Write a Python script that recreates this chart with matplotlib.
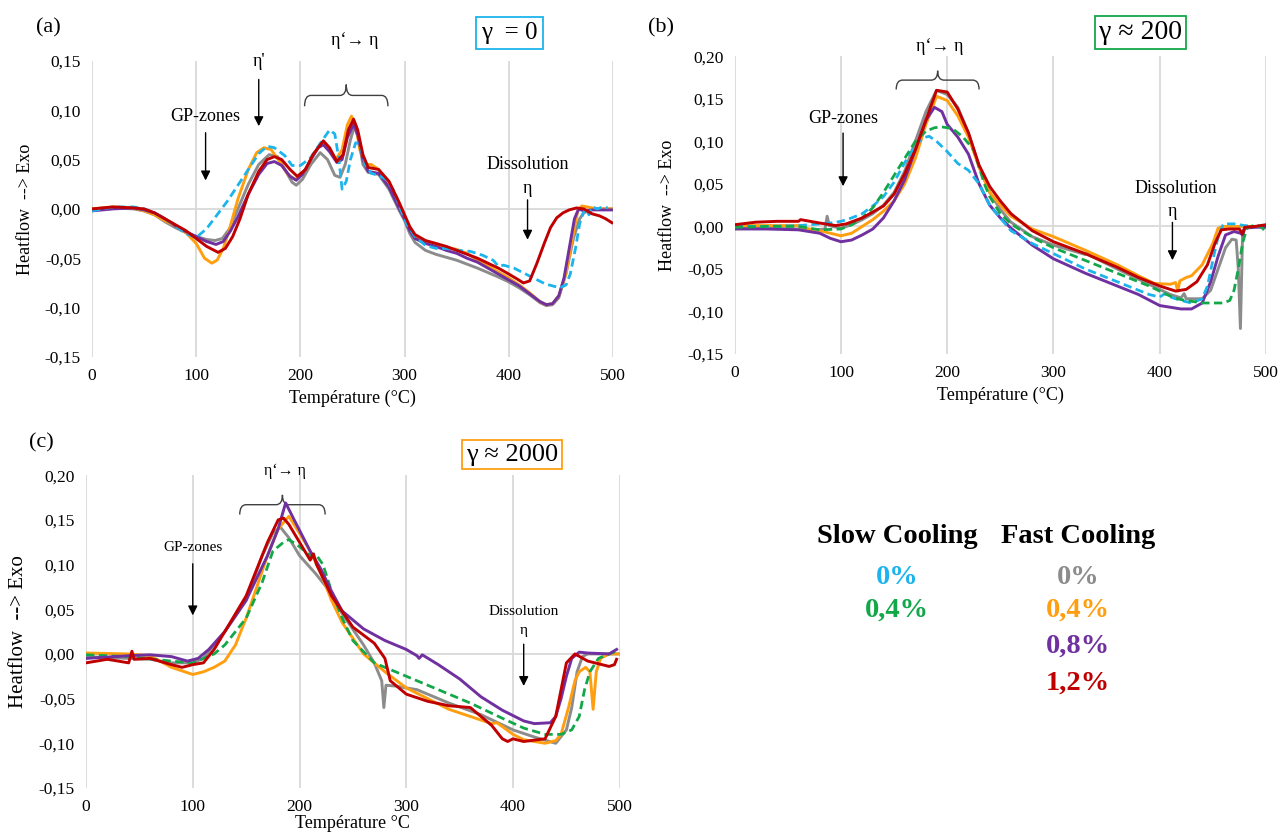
import numpy as np
import matplotlib
matplotlib.use("Agg")
import matplotlib.pyplot as plt
from matplotlib.path import Path
from matplotlib.patches import PathPatch
from matplotlib.ticker import FuncFormatter

plt.rcParams['font.family'] = ['Liberation Serif', 'DejaVu Serif']

# couleurs des series (Excel)
c_blue = '#1CB4EC'
c_green = '#12A84A'
c_gray = '#8C8C8C'
c_orange = '#FF9F10'
c_purple = '#7030A0'
c_red = '#C00000'

# ---------- (a) gamma = 0 ----------
a_slow0_x = [0,10,20,30,40,50,60,70,80,90,100,110,120,130,140,150,160,168,175,185,192,200,210,220,228,233,237,240,244,248,253,257,262,268,275,282,290,296,302,310,320,330,340,350,363,375,385,390,395,405,420,435,449,455,459,464,468,471,474,477,480,485,490,495]
a_slow0_y = [-0.002,0.0,0.002,0.002,0.002,0.0,-0.004,-0.01,-0.017,-0.025,-0.029,-0.02,-0.006,0.008,0.024,0.04,0.056,0.0635,0.062,0.054,0.044,0.044,0.052,0.068,0.08,0.076,0.05,0.02,0.028,0.05,0.067,0.066,0.045,0.036,0.034,0.03,0.018,0.0,-0.015,-0.028,-0.037,-0.04,-0.04,-0.042,-0.043,-0.047,-0.052,-0.058,-0.057,-0.06,-0.068,-0.076,-0.08,-0.077,-0.066,-0.04,-0.015,-0.005,0.0,-0.006,0.002,0.0,0.002,0.001]

a_fast0_x = [0,20,40,50,60,70,80,90,100,110,118,125,132,140,150,160,170,178,185,192,196,202,210,219,226,233,238,243,248,252,256,260,265,275,285,295,300,305,310,320,330,350,370,390,400,410,420,430,436,442,448,455,462,468,472,476,480,490,500]
a_fast0_y = [0.0,0.001,0.0,-0.002,-0.006,-0.013,-0.019,-0.024,-0.028,-0.031,-0.032,-0.03,-0.02,0.0,0.025,0.045,0.055,0.053,0.04,0.027,0.024,0.03,0.045,0.057,0.05,0.034,0.032,0.045,0.07,0.084,0.07,0.045,0.037,0.035,0.02,-0.002,-0.012,-0.025,-0.034,-0.042,-0.046,-0.052,-0.06,-0.069,-0.074,-0.08,-0.087,-0.095,-0.098,-0.097,-0.09,-0.065,-0.03,-0.01,-0.004,-0.002,0.0,0.0,0.0]

a_fast04_x = [0,20,40,50,60,70,80,90,100,108,115,120,126,132,140,150,158,165,172,180,188,195,202,210,218,222,228,234,240,245,249,253,257,262,268,275,285,295,300,305,310,320,330,340,350,360,370,380,390,400,410,420,430,436,442,448,455,462,466,470,475,480,490,500]
a_fast04_y = [0.0,0.002,0.001,-0.002,-0.006,-0.012,-0.017,-0.024,-0.035,-0.05,-0.055,-0.052,-0.04,-0.02,0.01,0.04,0.057,0.062,0.06,0.048,0.035,0.03,0.035,0.05,0.064,0.067,0.06,0.05,0.06,0.085,0.094,0.085,0.06,0.045,0.045,0.04,0.026,0.005,-0.008,-0.02,-0.028,-0.034,-0.037,-0.039,-0.041,-0.045,-0.052,-0.058,-0.064,-0.07,-0.077,-0.085,-0.094,-0.097,-0.096,-0.088,-0.065,-0.025,-0.003,0.003,0.002,0.001,0.0,0.0]

a_fast08_x = [0,20,40,50,60,70,80,90,100,110,119,126,133,140,150,160,168,175,182,190,196,202,210,217,222,228,235,240,245,251,255,260,265,275,285,295,300,305,310,320,330,340,350,360,370,380,390,400,410,420,430,436,442,448,453,458,463,467,472,480,490,500]
a_fast08_y = [-0.002,0.0,0.001,-0.001,-0.004,-0.01,-0.017,-0.023,-0.028,-0.033,-0.036,-0.033,-0.022,-0.008,0.015,0.035,0.046,0.048,0.044,0.033,0.029,0.035,0.05,0.062,0.065,0.058,0.047,0.05,0.072,0.086,0.075,0.05,0.038,0.036,0.022,0.0,-0.01,-0.022,-0.03,-0.035,-0.038,-0.042,-0.045,-0.05,-0.054,-0.06,-0.066,-0.072,-0.078,-0.086,-0.094,-0.097,-0.096,-0.088,-0.07,-0.04,-0.01,0.0,-0.002,-0.001,-0.001,-0.001]

a_fast12_x = [0,20,40,50,60,70,80,90,100,110,121,128,135,142,150,160,168,175,182,190,197,205,212,222,228,235,241,246,251,255,260,265,275,285,295,300,305,310,320,330,340,350,360,370,380,390,400,408,414,420,427,434,440,446,452,458,465,472,480,487,493,499]
a_fast12_y = [0.0,0.002,0.001,0.0,-0.004,-0.01,-0.016,-0.022,-0.03,-0.038,-0.044,-0.04,-0.028,-0.01,0.015,0.038,0.05,0.053,0.05,0.04,0.033,0.04,0.055,0.069,0.062,0.048,0.055,0.08,0.091,0.08,0.055,0.042,0.04,0.028,0.006,-0.006,-0.018,-0.026,-0.032,-0.035,-0.038,-0.042,-0.046,-0.05,-0.055,-0.06,-0.066,-0.071,-0.075,-0.073,-0.055,-0.035,-0.019,-0.009,-0.004,-0.001,0.001,0.0,-0.005,-0.007,-0.01,-0.014]

# ---------- (b) gamma ~ 200 ----------
b_slow0_x = [0,30,60,90,100,110,120,130,140,150,160,170,177,183,190,200,210,220,230,240,250,260,280,300,330,360,390,400,405,410,420,430,440,445,450,455,460,470,480,490,498]
b_slow0_y = [0.0,0.0,0.001,0.004,0.006,0.01,0.015,0.024,0.035,0.052,0.075,0.095,0.104,0.106,0.1,0.088,0.074,0.066,0.05,0.025,0.01,-0.005,-0.02,-0.032,-0.05,-0.065,-0.08,-0.083,-0.079,-0.083,-0.087,-0.09,-0.085,-0.07,-0.04,-0.012,0.003,0.003,0.001,0.0,0.0]

b_slow04_x = [0,30,60,80,100,110,120,130,140,150,160,170,180,188,195,205,215,225,230,235,240,250,260,270,285,300,330,360,390,410,420,440,460,466,470,474,478,482,490,495,499]
b_slow04_y = [-0.001,0.0,0.0,-0.004,-0.003,0.002,0.01,0.022,0.04,0.06,0.08,0.1,0.112,0.116,0.117,0.115,0.105,0.09,0.07,0.05,0.035,0.015,0.003,-0.005,-0.016,-0.025,-0.04,-0.055,-0.07,-0.082,-0.086,-0.09,-0.09,-0.087,-0.075,-0.05,-0.02,-0.002,0.002,0.0,-0.005]

b_fast0_x = [0,30,60,70,85,87,89,92,100,110,120,130,140,150,160,170,180,190,200,210,220,230,240,250,260,280,300,330,332,334,360,390,410,420,423,425,428,440,448,455,462,468,472,474,476,478,480,490,500]
b_fast0_y = [-0.001,-0.002,-0.003,-0.005,-0.003,0.012,0.001,0.0,-0.002,0.002,0.008,0.015,0.025,0.04,0.065,0.1,0.135,0.16,0.155,0.14,0.11,0.07,0.04,0.02,0.005,-0.012,-0.022,-0.033,-0.03,-0.034,-0.05,-0.068,-0.08,-0.084,-0.079,-0.085,-0.085,-0.085,-0.075,-0.05,-0.025,-0.015,-0.016,-0.05,-0.12,-0.01,-0.002,0.0,0.0]

b_fast04_x = [0,30,60,70,80,90,100,110,120,130,140,150,160,170,180,190,200,210,220,230,240,250,260,280,300,330,360,380,395,410,415,417,419,425,430,440,450,455,460,480,500]
b_fast04_y = [0.001,0.001,0.001,-0.003,-0.005,-0.008,-0.011,-0.008,0.0,0.008,0.018,0.03,0.05,0.08,0.12,0.153,0.148,0.13,0.105,0.07,0.04,0.025,0.012,-0.003,-0.012,-0.028,-0.045,-0.058,-0.067,-0.068,-0.066,-0.076,-0.064,-0.06,-0.058,-0.045,-0.02,-0.002,0.0,0.0,0.0]

b_fast08_x = [0,30,60,80,90,100,110,120,130,140,150,160,170,180,188,195,200,210,220,230,240,250,260,280,300,330,360,380,400,420,430,440,448,455,462,470,476,478,480,490,500]
b_fast08_y = [-0.003,-0.003,-0.004,-0.008,-0.014,-0.018,-0.016,-0.01,-0.003,0.01,0.03,0.055,0.09,0.125,0.14,0.135,0.12,0.105,0.085,0.05,0.025,0.01,-0.002,-0.022,-0.038,-0.055,-0.07,-0.08,-0.093,-0.097,-0.097,-0.09,-0.065,-0.035,-0.01,-0.006,-0.008,-0.01,-0.002,-0.001,-0.001]

b_fast12_x = [0,20,40,60,62,80,95,105,120,140,150,160,170,180,190,200,210,220,230,240,250,260,280,300,330,360,380,400,415,425,435,445,452,458,465,475,478,480,490,500]
b_fast12_y = [0.002,0.005,0.006,0.006,0.008,0.004,0.001,0.003,0.01,0.024,0.038,0.062,0.09,0.125,0.16,0.158,0.138,0.11,0.072,0.047,0.03,0.015,-0.005,-0.018,-0.032,-0.048,-0.06,-0.07,-0.076,-0.074,-0.065,-0.045,-0.02,-0.004,-0.003,-0.003,-0.009,-0.001,0.0,0.002]

# ---------- (c) gamma ~ 2000 ----------
c_slow04_x = [0,40,80,100,110,120,130,150,165,175,185,190,200,210,215,222,230,240,250,270,300,330,360,390,410,430,445,455,462,467,472,480,490,497]
c_slow04_y = [-0.001,-0.003,-0.008,-0.01,-0.005,0.0,0.01,0.04,0.08,0.115,0.125,0.128,0.12,0.11,0.112,0.1,0.07,0.04,0.015,-0.01,-0.025,-0.04,-0.055,-0.072,-0.083,-0.09,-0.09,-0.085,-0.07,-0.04,-0.02,-0.005,0.0,0.003]

c_fast0_x = [0,40,60,80,100,110,120,130,150,165,175,182,190,200,215,225,240,260,270,277,279,281,290,310,340,370,400,420,440,450,455,460,465,470,500]
c_fast0_y = [-0.003,-0.005,-0.006,-0.01,-0.01,-0.005,0.01,0.025,0.06,0.11,0.135,0.142,0.13,0.11,0.09,0.075,0.045,0.01,-0.01,-0.03,-0.06,-0.035,-0.036,-0.04,-0.055,-0.068,-0.085,-0.093,-0.1,-0.085,-0.06,-0.02,-0.003,0.0,0.0]

c_fast04_x = [0,40,60,80,100,110,120,130,140,150,160,170,180,190,200,210,220,230,240,260,280,300,320,340,360,380,385,400,410,420,430,440,445,452,458,462,468,472,475,478,482,490,500]
c_fast04_y = [0.001,0.0,-0.002,-0.015,-0.023,-0.02,-0.015,-0.008,0.01,0.04,0.075,0.11,0.14,0.154,0.135,0.115,0.09,0.06,0.035,0.0,-0.02,-0.038,-0.05,-0.062,-0.07,-0.078,-0.077,-0.09,-0.096,-0.098,-0.1,-0.097,-0.09,-0.06,-0.03,-0.02,-0.015,-0.02,-0.062,-0.02,-0.005,0.0,0.0]

c_fast08_x = [0,40,60,80,95,105,115,130,150,170,180,187,195,210,220,230,240,260,280,300,310,312,315,330,350,370,390,410,420,435,440,445,450,455,462,470,490,497]
c_fast08_y = [-0.005,-0.002,-0.001,-0.003,-0.008,-0.005,0.005,0.025,0.06,0.11,0.14,0.169,0.15,0.115,0.095,0.07,0.048,0.028,0.015,0.005,-0.002,-0.005,-0.001,-0.012,-0.028,-0.048,-0.063,-0.075,-0.078,-0.077,-0.07,-0.05,-0.025,-0.005,0.002,0.001,0.0,0.005]

c_fast12_x = [0,20,40,43,45,60,80,90,100,110,120,130,150,170,180,185,190,200,210,213,216,230,250,270,280,285,300,320,340,360,370,380,390,395,400,410,430,440,445,450,458,470,490,495,497]
c_fast12_y = [-0.01,-0.006,-0.01,0.003,-0.006,-0.005,-0.012,-0.015,-0.012,-0.01,0.005,0.025,0.065,0.125,0.15,0.152,0.145,0.125,0.105,0.112,0.1,0.065,0.03,0.012,-0.005,-0.03,-0.045,-0.053,-0.058,-0.06,-0.07,-0.08,-0.095,-0.098,-0.095,-0.098,-0.095,-0.07,-0.04,-0.01,0.0,-0.008,-0.014,-0.012,-0.006]

x_ticks = [0, 100, 200, 300, 400, 500]


def brace(ax, x0, x1, y, h, q):
    # accolade horizontale, pointe vers le haut
    xm = (x0 + x1) / 2
    verts = [(x0, y - h), (x0, y), (x0 + q, y), (xm - q, y), (xm, y), (xm, y + h),
             (xm, y + h), (xm, y), (xm + q, y), (x1 - q, y), (x1, y), (x1, y - h)]
    codes = [Path.MOVETO, Path.CURVE3, Path.CURVE3, Path.LINETO, Path.CURVE3, Path.CURVE3,
             Path.MOVETO, Path.CURVE3, Path.CURVE3, Path.LINETO, Path.CURVE3, Path.CURVE3]
    ax.add_patch(PathPatch(Path(verts, codes), fc='none', ec='#404040', lw=1.0, clip_on=False))


def arrow(ax, x, y0, y1):
    ax.annotate('', xy=(x, y1), xytext=(x, y0),
                arrowprops=dict(arrowstyle='-|>', color='black', lw=1.0, mutation_scale=14),
                annotation_clip=False)


def setup(ax, ylim, yticks, xlabel, ylabel_size):
    ax.set_xlim(0, 500)
    ax.set_ylim(*ylim)
    ax.set_xticks(x_ticks)
    ax.set_yticks(yticks)
    ax.yaxis.set_major_formatter(FuncFormatter(lambda v, p: ('%.2f' % v).replace('.', ',')))
    for s in ax.spines.values():
        s.set_visible(False)
    ax.tick_params(length=0, labelsize=12.5, pad=8)
    ax.grid(axis='x', color='#D9D9D9', lw=1.3)
    ax.axhline(0, color='#D9D9D9', lw=1.3, zorder=1)
    ax.set_axisbelow(True)
    ax.set_xlabel(xlabel, fontsize=13, labelpad=4)
    ax.set_ylabel('Heatflow  --> Exo', fontsize=ylabel_size, labelpad=8)


def plot_fast(ax, xs, ys, col):
    ax.plot(xs, ys, color=col, lw=2.1, zorder=3, solid_joinstyle='round')


def plot_slow(ax, xs, ys, col):
    ax.plot(xs, ys, color=col, lw=2.0, ls=(0, (3, 1.6)), zorder=3)


fig = plt.figure(figsize=(12.8, 8.34), dpi=100)

# ----- (a)
ax1 = fig.add_axes([0.0719, 0.572, 0.407, 0.355])
setup(ax1, (-0.15, 0.15), [-0.15, -0.10, -0.05, 0.0, 0.05, 0.10, 0.15], 'Température (°C)', 13)
plot_fast(ax1, a_fast0_x, a_fast0_y, c_gray)
plot_fast(ax1, a_fast04_x, a_fast04_y, c_orange)
plot_fast(ax1, a_fast08_x, a_fast08_y, c_purple)
plot_slow(ax1, a_slow0_x, a_slow0_y, c_blue)
plot_fast(ax1, a_fast12_x, a_fast12_y, c_red)
fig.text(0.0375, 0.967, '(a)', fontsize=16, va='center', ha='center')
fig.text(0.398, 0.961, 'γ  = 0', fontsize=18, va='center', ha='center',
         bbox=dict(boxstyle='square,pad=0.2', fc='white', ec=c_blue, lw=1.3))
ax1.text(160, 0.149, "η'", fontsize=13, ha='center', va='center')
arrow(ax1, 160, 0.134, 0.081)
ax1.text(252, 0.171, 'η‘→ η', fontsize=13, ha='center', va='center')
brace(ax1, 204, 284, 0.115, 0.011, 6)
ax1.text(109, 0.094, 'GP-zones', fontsize=13, ha='center', va='center')
arrow(ax1, 109, 0.080, 0.026)
ax1.text(418, 0.045, 'Dissolution', fontsize=13, ha='center', va='center')
ax1.text(418, 0.021, 'η', fontsize=13, ha='center', va='center')
arrow(ax1, 418, 0.012, -0.034)

# ----- (b)
ax2 = fig.add_axes([0.574, 0.5755, 0.415, 0.357])
setup(ax2, (-0.15, 0.20), [-0.15, -0.10, -0.05, 0.0, 0.05, 0.10, 0.15, 0.20], 'Température (°C)', 13)
plot_fast(ax2, b_fast0_x, b_fast0_y, c_gray)
plot_fast(ax2, b_fast04_x, b_fast04_y, c_orange)
plot_fast(ax2, b_fast08_x, b_fast08_y, c_purple)
plot_slow(ax2, b_slow0_x, b_slow0_y, c_blue)
plot_slow(ax2, b_slow04_x, b_slow04_y, c_green)
plot_fast(ax2, b_fast12_x, b_fast12_y, c_red)
fig.text(0.5165, 0.967, '(b)', fontsize=16, va='center', ha='center')
fig.text(0.891, 0.961, 'γ ≈ 200', fontsize=20, va='center', ha='center',
         bbox=dict(boxstyle='square,pad=0.15', fc='white', ec=c_green, lw=1.3))
ax2.text(193, 0.212, 'η‘→ η', fontsize=13, ha='center', va='center')
brace(ax2, 152, 230, 0.172, 0.011, 6)
ax2.text(102, 0.127, 'GP-zones', fontsize=13, ha='center', va='center')
arrow(ax2, 102, 0.113, 0.044)
ax2.text(415, 0.045, 'Dissolution', fontsize=13, ha='center', va='center')
ax2.text(412, 0.018, 'η', fontsize=13, ha='center', va='center')
arrow(ax2, 412, 0.008, -0.043)

# ----- (c)
ax3 = fig.add_axes([0.0672, 0.0552, 0.417, 0.375])
setup(ax3, (-0.15, 0.20), [-0.15, -0.10, -0.05, 0.0, 0.05, 0.10, 0.15, 0.20], 'Température °C', 15)
ax3.xaxis.labelpad = 0
plot_fast(ax3, c_fast0_x, c_fast0_y, c_gray)
plot_fast(ax3, c_fast04_x, c_fast04_y, c_orange)
plot_slow(ax3, c_slow04_x, c_slow04_y, c_green)
plot_fast(ax3, c_fast08_x, c_fast08_y, c_purple)
plot_fast(ax3, c_fast12_x, c_fast12_y, c_red)
fig.text(0.032, 0.469, '(c)', fontsize=16, va='center', ha='center')
fig.text(0.4, 0.455, 'γ ≈ 2000', fontsize=19, va='center', ha='center',
         bbox=dict(boxstyle='square,pad=0.15', fc='white', ec=c_orange, lw=1.3))
ax3.text(186, 0.205, 'η‘→ η', fontsize=11.5, ha='center', va='center')
brace(ax3, 144, 224, 0.167, 0.011, 6)
ax3.text(100, 0.119, 'GP-zones', fontsize=11, ha='center', va='center')
arrow(ax3, 100, 0.104, 0.04)
ax3.text(410, 0.048, 'Dissolution', fontsize=11, ha='center', va='center')
ax3.text(410, 0.026, 'η', fontsize=11, ha='center', va='center')
arrow(ax3, 410, 0.014, -0.039)

# ----- legende texte
leg_fs = 20.5
fig.text(0.701, 0.357, 'Slow Cooling', fontsize=leg_fs, fontweight='bold', ha='center', va='center')
fig.text(0.842, 0.357, 'Fast Cooling', fontsize=leg_fs, fontweight='bold', ha='center', va='center')
fig.text(0.701, 0.308, '0%', fontsize=leg_fs, fontweight='bold', color=c_blue, ha='center', va='center')
fig.text(0.701, 0.268, '0,4%', fontsize=leg_fs, fontweight='bold', color=c_green, ha='center', va='center')
fig.text(0.842, 0.308, '0%', fontsize=leg_fs, fontweight='bold', color=c_gray, ha='center', va='center')
fig.text(0.842, 0.268, '0,4%', fontsize=leg_fs, fontweight='bold', color=c_orange, ha='center', va='center')
fig.text(0.842, 0.225, '0,8%', fontsize=leg_fs, fontweight='bold', color=c_purple, ha='center', va='center')
fig.text(0.842, 0.181, '1,2%', fontsize=leg_fs, fontweight='bold', color=c_red, ha='center', va='center')

fig.savefig('out.png', dpi=100)
